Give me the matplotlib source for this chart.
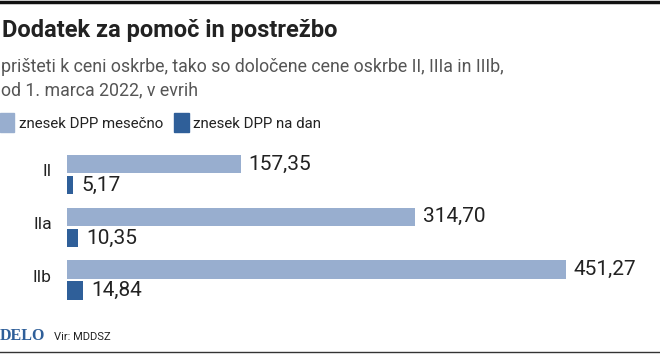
import matplotlib.pyplot as plt
from matplotlib.patches import Rectangle
from matplotlib.lines import Line2D

# data
categories = ['II', 'IIa', 'IIb']
monthly = [157.35, 314.70, 451.27]
daily = [5.17, 10.35, 14.84]
monthly_labels = ['157,35', '314,70', '451,27']
daily_labels = ['5,17', '10,35', '14,84']

light = '#98aecf'
dark = '#2f5f99'
W, H = 660, 354

plt.rcParams['font.family'] = ['Roboto', 'DejaVu Sans']

fig = plt.figure(figsize=(W / 100, H / 100), dpi=100)

def fx(px):
    return px / W

def fy(py):
    return 1 - py / H

# bars area: x 67..620 px, y 145..310 px
ax = fig.add_axes([fx(67), fy(310), fx(620 - 67), (310 - 145) / H])
ax.set_xlim(0, 500)
ax.set_ylim(2.565, -0.56)
ax.axis('off')

pos = list(range(len(categories)))
ax.barh([p - 0.2 for p in pos], monthly, height=0.35, color=light)
ax.barh([p + 0.2 for p in pos], daily, height=0.35, color=dark)

for p, v, t in zip(pos, monthly, monthly_labels):
    ax.annotate(t, (v, p - 0.2), xytext=(5.5, 0), textcoords='offset points',
                va='center', ha='left', fontsize=15, color='#222222')
for p, v, t in zip(pos, daily, daily_labels):
    ax.annotate(t, (v, p + 0.2), xytext=(6, 0), textcoords='offset points',
                va='center', ha='left', fontsize=15, color='#222222')
for p, c in zip(pos, categories):
    ax.annotate(c, (0, p - 0.06), xytext=(-11, 0), textcoords='offset points',
                va='center', ha='right', fontsize=12.5, color='#222222')

# titles
fig.text(fx(2), fy(37), 'Dodatek za pomoč in postrežbo', fontsize=17,
         fontweight='bold', color='#222222', va='baseline')
fig.text(fx(1), fy(72), 'prišteti k ceni oskrbe, tako so določene cene oskrbe II, IIIa in IIIb,',
         fontsize=12.8, color='#555555', va='baseline')
fig.text(fx(1), fy(95), 'od 1. marca 2022, v evrih', fontsize=12.8,
         color='#555555', va='baseline')

# legend
fig.patches.append(Rectangle((fx(0), fy(132)), fx(14), 19 / H, color=light,
                             transform=fig.transFigure))
fig.text(fx(19), fy(128), 'znesek DPP mesečno', fontsize=10.8, color='#222222',
         va='baseline')
fig.patches.append(Rectangle((fx(174), fy(132)), fx(15), 19 / H, color=dark,
                             transform=fig.transFigure))
fig.text(fx(193), fy(128), 'znesek DPP na dan', fontsize=10.8, color='#222222',
         va='baseline')

# footer
fig.text(fx(0), fy(340), 'DELO', fontsize=11.5, fontweight='bold', color=dark,
         family='Liberation Serif', va='baseline')
fig.text(fx(54), fy(340), 'Vir: MDDSZ', fontsize=8, color='#222222', va='baseline')

# frame lines
fig.lines.append(Line2D([0, 1], [fy(1.5), fy(1.5)], color='#111111', lw=2.5,
                        transform=fig.transFigure))
fig.lines.append(Line2D([0, 1], [fy(352), fy(352)], color='#333333', lw=1,
                        transform=fig.transFigure))

fig.savefig('out.png', dpi=100, facecolor='white')
